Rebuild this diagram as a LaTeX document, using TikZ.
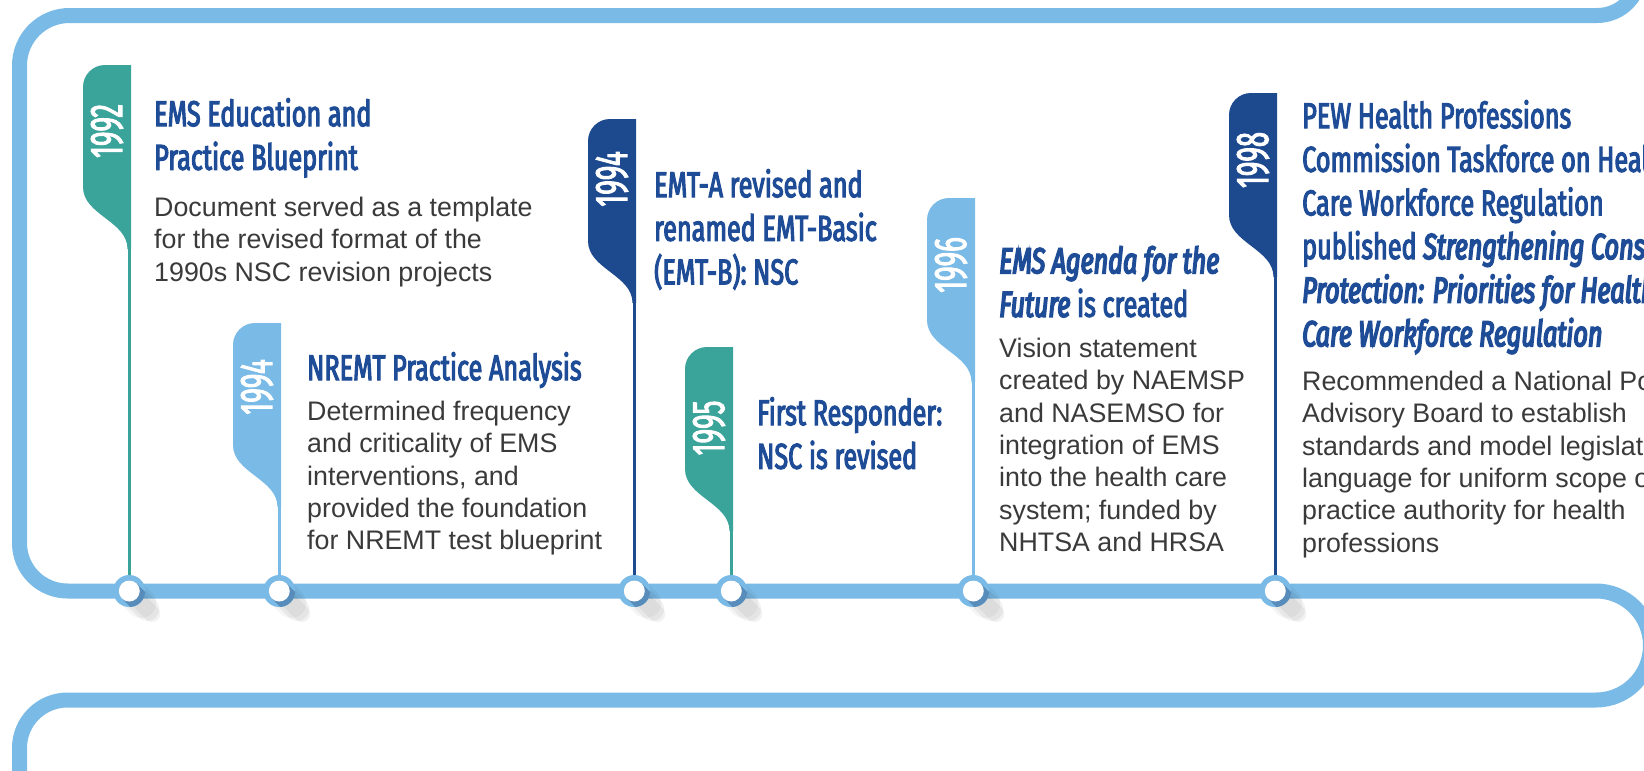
\documentclass[tikz,border=0pt]{standalone}
\usepackage{fontspec}
\setmainfont{Liberation Sans}
\newfontfamily\titlefont[FakeStretch=0.7,FakeBold=3,ItalicFeatures={FakeBold=4.5}]{Fira Sans}
\newfontfamily\yearfont[FakeStretch=0.6,FakeBold=2]{Fira Sans}
\definecolor{trackblue}{RGB}{122,186,230}
\definecolor{tealtag}{RGB}{58,163,154}
\definecolor{navytag}{RGB}{29,74,142}
\definecolor{headblue}{RGB}{30,76,150}
\definecolor{textgray}{RGB}{58,58,58}
\definecolor{shadeblue}{RGB}{88,140,186}
\def\yeartag[#1](#2,#3)#4#5#6{\fill[#1] ({#2+48},#3) -- ({#2+22},#3) arc (270:180:22) -- (#2,{#3+122}) .. controls (#2,{#3+150}) and ({#2+44.5},{#3+156}) .. ({#2+44.5},{#3+184}) -- ({#2+48},{#3+184}) -- cycle;
	\node[year] (#4) at ({#2+24},{#3+#5}) {#6};
	\coordinate (#4-foot) at ({#2+46.25},{#3+184});}
\def\station(#1)#2{\coordinate (#2) at (#1,591);
	\draw[line width=30pt, line cap=round, black, opacity=0.04] (#2) -- ++(12,12);
	\draw[line width=24pt, line cap=round, black, opacity=0.05] (#2) -- ++(18,18);
	\draw[line width=16pt, line cap=round, black, opacity=0.05] (#2) -- ++(23,23);
	\fill[trackblue] (#2) circle (16);
	\begin{scope}\clip (#2) circle (16);
		\draw[line width=21pt, line cap=round, shadeblue] (#2) -- ++(14,14);
	\end{scope}
	\fill[white] (#2) circle (10.5);}

\begin{document}
\begin{tikzpicture}[x=1pt, y=-1pt,
	track/.style={line width=15pt, trackblue},
	stem/.style={line width=3.5pt},
	year/.style={rotate=90, inner sep=0pt, text=white, font=\yearfont\fontsize{46}{46}\selectfont},
	head/.style={anchor=north west, yshift=30.52pt, inner sep=0pt, align=left, text=headblue, font=\titlefont\fontsize{36}{43.6}\selectfont},
	body/.style={anchor=north west, yshift=22.68pt, inner sep=0pt, align=left, text=textgray, font=\fontsize{26.8}{32.4}\selectfont}]
			%%%%% START %%%%%
			\useasboundingbox (0,0) rectangle (1644,771);
			\fill[white] (0,0) rectangle (1644,771);
			\clip (0,0) rectangle (1644,771);
			
			\draw[track] (1640,-27.5) arc (0:90:43) -- (69.5,15.5) arc (270:180:50) -- (19.5,543) arc (180:90:48) -- (1596,591) arc (-90:90:54.5) -- (67.5,700) arc (270:180:48) -- (19.5,800);
			
			\yeartag[tealtag](83,65){t1}{66}{1992}
			\yeartag[trackblue](233,323){t2}{64}{1994}
			\yeartag[navytag](588,119){t3}{60}{1994}
			\yeartag[tealtag](685,347){t4}{81}{1995}
			\yeartag[trackblue](927,198){t5}{67}{1996}
			\yeartag[navytag](1229,93){t6}{67}{1998}
			
			\coordinate (s1) at (129.25,591);
			\coordinate (s2) at (279.25,591);
			\coordinate (s3) at (634.25,591);
			\coordinate (s4) at (731.25,591);
			\coordinate (s5) at (973.25,591);
			\coordinate (s6) at (1275.25,591);
			\draw[stem, tealtag] (t1-foot) -- (s1);
			\draw[stem, trackblue] (t2-foot) -- (s2);
			\draw[stem, navytag] (t3-foot) -- (s3);
			\draw[stem, tealtag] (t4-foot) -- (s4);
			\draw[stem, trackblue] (t5-foot) -- (s5);
			\draw[stem, navytag] (t6-foot) -- (s6);
			
			\station(129.25){s1}
			\station(279.25){s2}
			\station(634.25){s3}
			\station(731.25){s4}
			\station(973.25){s5}
			\station(1275.25){s6}
			
			\node[head] (h1) at (154,126) {\strut EMS Education and\\Practice Blueprint};
			\node[body] (b1) at (154,216) {\strut Document served as a template\\for the revised format of the\\1990s NSC revision projects};
			
			\node[head] (h2) at (307,380) {\strut NREMT Practice Analysis};
			\node[body] (b2) at (307,420) {\strut Determined frequency\\and criticality of EMS\\interventions, and\\provided the foundation\\for NREMT test blueprint};
			
			\node[head] (h3) at (654,197) {\strut EMT-A revised and\\renamed EMT-Basic\\(EMT-B): NSC};
			
			\node[head] (h4) at (757,425) {\strut First Responder:\\NSC is revised};
			
			\node[head] (h5) at (999,273) {\strut\textit{EMS Agenda for the}\\\textit{Future} is created};
			\node[body] (b5) at (999,357) {\strut Vision statement\\created by NAEMSP\\and NASEMSO for\\integration of EMS\\into the health care\\system; funded by\\NHTSA and HRSA};
			
			\node[head] (h6) at (1302,128) {\strut PEW Health Professions\\Commission Taskforce on Health\\Care Workforce Regulation\\published \textit{Strengthening Consumer}\\\textit{Protection: Priorities for Health}\\\textit{Care Workforce Regulation}};
			\node[body] (b6) at (1302,390) {\strut Recommended a National Policy\\Advisory Board to establish\\standards and model legislative\\language for uniform scope of\\practice authority for health\\professions};
			%%%%% END %%%%%
\end{tikzpicture}
\end{document}
